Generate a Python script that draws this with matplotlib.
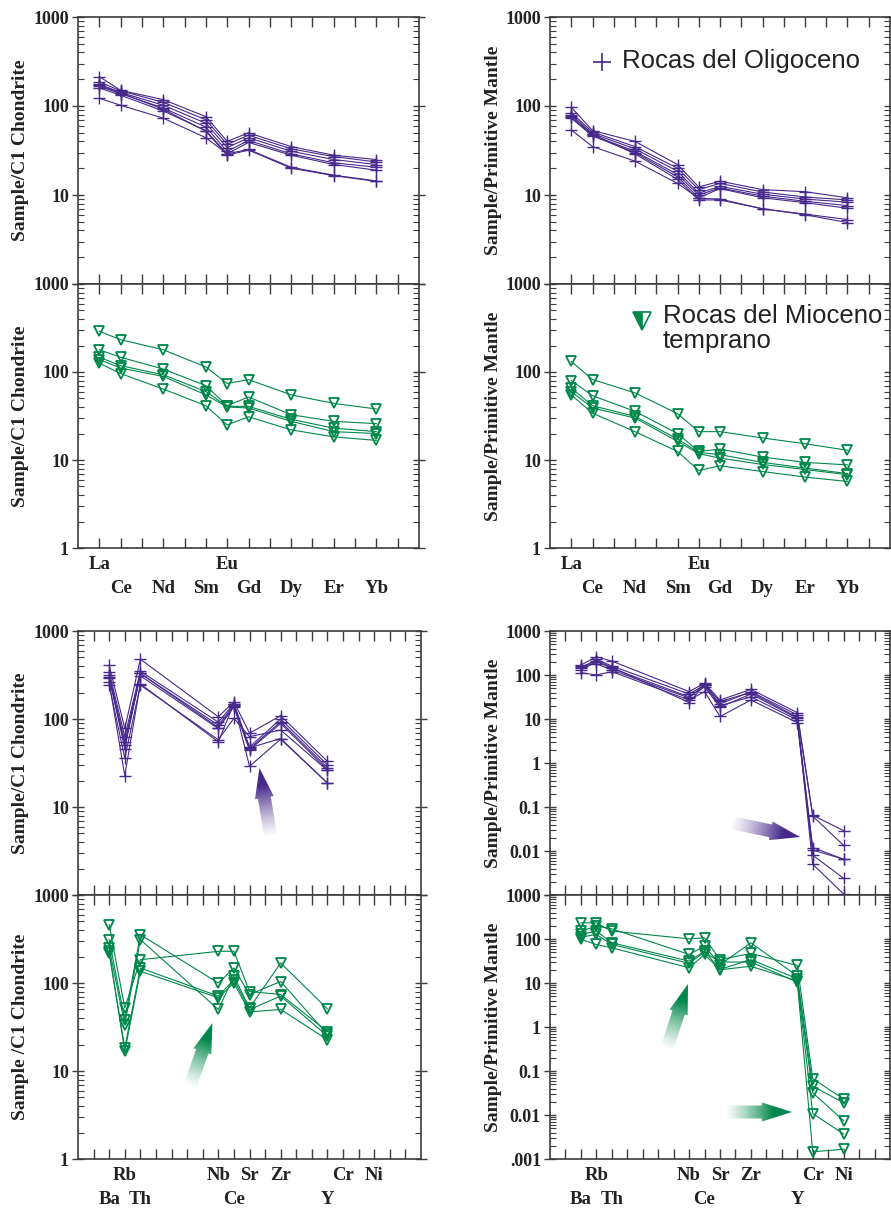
#!/usr/bin/env python3
"""REE and multi-element diagrams, Oligocene vs early Miocene rocks."""

import numpy as np
import matplotlib

matplotlib.use("Agg")
import matplotlib.pyplot as plt
from matplotlib.colors import to_rgb
from matplotlib.patches import Polygon
from matplotlib.ticker import LogLocator, NullFormatter

PURPLE = "#46298a"
GREEN = "#00874a"
INK = "#222222"
SPINE = "#3c3c3c"

# x axes: every tick position, labelled or not
REE_AXIS = ["La", "Ce", "Pr", "Nd", "Pm", "Sm", "Eu", "Gd", "Tb", "Dy", "Ho", "Er", "Tm", "Yb", "Lu"]
REE_ROW1 = ["La", "Eu"]
REE_ROW2 = ["Ce", "Nd", "Sm", "Gd", "Dy", "Er", "Yb"]
SPIDER_AXIS = ["", "Ba", "Rb", "Th", "", "", "", "", "Nb", "Ce", "Sr", "", "Zr", "", "", "Y", "Cr", "", "Ni", "", ""]
SPIDER_ROW1 = ["Rb", "Nb", "Sr", "Zr", "Cr", "Ni"]
SPIDER_ROW2 = ["Ba", "Th", "Ce", "Y"]

REE = ["La", "Ce", "Nd", "Sm", "Eu", "Gd", "Dy", "Er", "Yb"]
SPIDER_CHON = ["Ba", "Rb", "Th", "Nb", "Ce", "Sr", "Zr", "Y"]
SPIDER_PM = ["Ba", "Rb", "Th", "Nb", "Ce", "Sr", "Zr", "Y", "Cr", "Ni"]

# Oligocene rocks
OLIG_CHON_REE = [
    [214, 150, 118, 76, 40, 50, 35, 28, 25],
    [187, 148, 110, 70, 37, 47, 33, 27, 23.5],
    [176, 142, 102, 64, 34, 44, 31, 25, 22],
    [166, 138, 95, 58, 31, 41, 29, 23, 20.5],
    [160, 132, 88, 53, 29, 39, 28, 22, 19],
    [122, 102, 73, 44, 29, 32.5, 20.5, 16.7, 14.4],
    [170, 140, 92, 52, 28, 32, 20, 16.5, 14.2],
]
OLIG_PM_REE = [
    [97, 53, 40, 22, 12.3, 14.3, 11.5, 10.9, 9.3],
    [84, 51, 35, 20, 11.5, 13.5, 10.8, 9.5, 8.8],
    [78, 49, 33, 18.5, 10.5, 12.5, 10.2, 9.0, 8.3],
    [75, 47, 31, 17, 10, 12, 9.7, 8.5, 7.6],
    [73, 46, 30, 16, 9.3, 11.8, 9.3, 8.2, 7.1],
    [54, 35, 24, 13.5, 9.2, 9.0, 7.0, 6.1, 5.3],
    [80, 48, 29, 15, 8.8, 8.8, 7.0, 6.0, 4.9],
]
OLIG_CHON_SPIDER = [
    [408, 78, 478, 106, 157, 69, 109, 33],
    [343, 63, 349, 92, 150, 48, 100, 30],
    [315, 55, 329, 85, 145, 46, 93, 28],
    [289, 51, 309, 78, 138, 44.6, 89, 26.5],
    [243, 36, 243, 58, 102, 63, 75, 26],
    [260, 22.8, 250, 55, 150, 29, 59, 18.7],
    [300, 46, 330, 80, 140, 47, 60, 18.7],
]
OLIG_PM_SPIDER = [
    [168, 260, 207, 42, 65, 27, 47, 14, 0.065, 0.029],
    [141, 226, 160, 37, 59, 22, 42, 12.4, 0.062, 0.0134],
    [130, 200, 142, 32, 54, 18.5, 37, 10.4, 0.012, 0.0065],
    [113, 100, 119, 27, 42, 11.4, 27, 8.3, 0.0105, 0.0065],
    [150, 210, 150, 23.6, 60, 20, 32, 9.5, 0.008, 0.0024],
    [160, 180, 130, 30, 62, 25, 40, 11, 0.005, 0.00105],
]

# Early Miocene rocks
MIO_CHON_REE = [
    [290, 233, 179, 114, 74, 82, 55, 44, 38],
    [179, 147, 108, 70, 41.4, 52, 32.7, 27.5, 25.9],
    [147, 118, 93, 60, 40.7, 40.7, 29, 23, 21],
    [138, 111, 89, 55, 40, 39, 27.5, 21, 20],
    [126, 96, 64, 41.4, 25, 31, 22, 18.3, 16.7],
]
MIO_PM_REE = [
    [132, 82, 58, 33.6, 21, 21, 17.8, 15.3, 12.9],
    [80, 53.8, 35.7, 20, 12.5, 13.3, 10.8, 9.4, 8.8],
    [65.8, 41.4, 31.3, 17.3, 12.2, 11.5, 9.4, 8.1, 7.0],
    [60, 39, 30, 16.3, 11.8, 10.5, 8.9, 7.8, 6.8],
    [55, 34, 21, 12.5, 7.6, 8.6, 7.4, 6.4, 5.7],
]
MIO_CHON_SPIDER = [
    [460, 52, 184, 229, 229, 80, 74, 28],
    [311, 38, 354, 100, 148, 74, 104, 26],
    [250, 33.6, 311, 50, 119, 52, 169, 50.7],
    [219, 18.3, 148, 71, 109, 50, 71, 25],
    [230, 16.7, 136, 68, 100, 47, 50, 22.7],
]
MIO_PM_SPIDER = [
    [233, 233, 151, 101, 106, 34, 47, 25, 0.067, 0.023],
    [151, 196, 170, 44.6, 69, 26, 82, 14.4, 0.045, 0.019],
    [127, 151, 82, 31.5, 53, 20.4, 34, 12.5, 0.032, 0.0074],
    [98, 75, 63, 22.2, 44.6, 20, 24, 11.1, 0.0108, 0.0037],
    [110, 127, 75, 28, 50, 30, 30, 10.5, 0.00146, 0.00167],
]

YTICK_TEXT = {-3: ".001", -2: "0.01", -1: "0.1", 0: "1", 1: "10", 2: "100", 3: "1000"}

plt.rcParams.update({
    "font.family": ["Liberation Serif", "DejaVu Serif"],
    "font.weight": "bold",
    "text.color": INK,
    "axes.edgecolor": SPINE,
    "axes.linewidth": 1.2,
    "xtick.color": SPINE,
    "ytick.color": SPINE,
    "ytick.labelcolor": INK,
})

W, H = 891, 1209
fig = plt.figure(figsize=(W / 100, H / 100), dpi=100)


def add_panel(x0, x1, ytop, ybot):
    return fig.add_axes([x0 / W, 1 - ybot / H, (x1 - x0) / W, (ybot - ytop) / H])


def style_panel(ax, axis_elems, low_exp, lower, ylabel):
    ax.set_yscale("log")
    ax.set_ylim(10.0 ** low_exp, 1000)
    ax.set_xlim(0, len(axis_elems) + 1)
    ax.set_xticks(np.arange(1, len(axis_elems) + 1))
    ax.tick_params(axis="x", which="major", direction="in", top=True, bottom=True,
                   length=7, width=1.0, labelbottom=False)
    exps = list(range(low_exp, 4))
    labels = [YTICK_TEXT[e] for e in exps]
    if not lower:
        labels[0] = ""
    ax.set_yticks([10.0 ** e for e in exps], labels)
    ax.yaxis.set_minor_locator(LogLocator(base=10, subs=np.arange(2, 10), numticks=100))
    ax.yaxis.set_minor_formatter(NullFormatter())
    ax.tick_params(axis="y", which="major", direction="inout", left=True, right=True,
                   length=9, width=1.0, pad=2, labelsize=13)
    ax.tick_params(axis="y", which="minor", direction="in", left=True, right=True,
                   length=4, width=0.8)
    width_px = ax.get_position().width * W
    ax.text(-57 / width_px, 0.5, ylabel, transform=ax.transAxes, rotation=90,
            ha="center", va="center", fontsize=14, fontweight="bold")


def category_labels(ax, axis_elems, row1, row2):
    trans = ax.get_xaxis_transform()
    for names, yy in ((row1, -0.064), (row2, -0.152)):
        for name in names:
            ax.text(axis_elems.index(name) + 1, yy, name, transform=trans, ha="center",
                    va="center", fontsize=13.5, fontweight="bold")


def draw_series(ax, axis_elems, elems, rows, color, marker):
    x = [axis_elems.index(e) + 1 for e in elems]
    for vals in rows:
        if marker == "+":
            ax.plot(x, vals, color=color, lw=0.8, marker="+", ms=8, mew=1.0, clip_on=False, zorder=3)
        else:
            ax.plot(x, vals, color=color, lw=0.8, marker="v", ms=7.5, mfc="none", mec=color,
                    mew=1.3, clip_on=False, zorder=3)


# panel frames in pixel coordinates of the 891 x 1209 canvas
ax_a = add_panel(78, 419, 17, 284)
ax_c = add_panel(78, 419, 284, 548)
ax_b = add_panel(550, 890, 17, 284)
ax_d = add_panel(550, 890, 284, 548)
ax_e = add_panel(78, 421, 631, 895)
ax_g = add_panel(78, 421, 895, 1159)
ax_f = add_panel(550, 890, 631, 895)
ax_h = add_panel(550, 890, 895, 1159)

CHON = "Sample/C1 Chondrite"
PM = "Sample/Primitive Mantle"
style_panel(ax_a, REE_AXIS, 0, False, CHON)
style_panel(ax_c, REE_AXIS, 0, True, CHON)
style_panel(ax_b, REE_AXIS, 0, False, PM)
style_panel(ax_d, REE_AXIS, 0, True, PM)
style_panel(ax_e, SPIDER_AXIS, 0, False, CHON)
style_panel(ax_g, SPIDER_AXIS, 0, True, "Sample /C1 Chondrite")
style_panel(ax_f, SPIDER_AXIS, -3, False, PM)
style_panel(ax_h, SPIDER_AXIS, -3, True, PM)

for ax in (ax_c, ax_d):
    category_labels(ax, REE_AXIS, REE_ROW1, REE_ROW2)
for ax in (ax_g, ax_h):
    category_labels(ax, SPIDER_AXIS, SPIDER_ROW1, SPIDER_ROW2)

draw_series(ax_a, REE_AXIS, REE, OLIG_CHON_REE, PURPLE, "+")
draw_series(ax_b, REE_AXIS, REE, OLIG_PM_REE, PURPLE, "+")
draw_series(ax_c, REE_AXIS, REE, MIO_CHON_REE, GREEN, "v")
draw_series(ax_d, REE_AXIS, REE, MIO_PM_REE, GREEN, "v")
draw_series(ax_e, SPIDER_AXIS, SPIDER_CHON, OLIG_CHON_SPIDER, PURPLE, "+")
draw_series(ax_f, SPIDER_AXIS, SPIDER_PM, OLIG_PM_SPIDER, PURPLE, "+")
draw_series(ax_g, SPIDER_AXIS, SPIDER_CHON, MIO_CHON_SPIDER, GREEN, "v")
draw_series(ax_h, SPIDER_AXIS, SPIDER_PM, MIO_PM_SPIDER, GREEN, "v")

# legends
ax_b.plot([0.153], [0.831], transform=ax_b.transAxes, marker="+", ms=13, mew=1.2,
          color=PURPLE, clip_on=False)
ax_b.text(0.212, 0.809, "Rocas del Oligoceno", transform=ax_b.transAxes, fontsize=18.5,
          family="Liberation Sans", fontweight="normal", va="baseline", ha="left")
ax_d.plot([0.271], [0.858], transform=ax_d.transAxes, marker="v", ms=13, mew=1.2,
          fillstyle="left", color=GREEN, mfc=GREEN, mfcalt="white", mec=GREEN, clip_on=False)
ax_d.text(0.332, 0.852, "Rocas del Mioceno", transform=ax_d.transAxes, fontsize=18.5,
          family="Liberation Sans", fontweight="normal", va="baseline", ha="left", clip_on=False)
ax_d.text(0.332, 0.758, "temprano", transform=ax_d.transAxes, fontsize=18.5,
          family="Liberation Sans", fontweight="normal", va="baseline", ha="left")

# fading arrows drawn on a full-figure overlay in display pixels
overlay = fig.add_axes([0, 0, 1, 1], zorder=10)
overlay.set_axis_off()


def gradient_arrow(ax, tail, tip, color, shaft=6.5, head=9.5, head_len=30.0):
    p0 = ax.transData.transform(tail)
    p1 = ax.transData.transform(tip)
    d = p1 - p0
    length = np.hypot(*d)
    u = d / length
    n = np.array([-u[1], u[0]])
    neck = p1 - u * head_len
    pts = np.array([p0 + n * shaft, neck + n * shaft, neck + n * head, p1,
                    neck - n * head, neck - n * shaft, p0 - n * shaft])
    poly = Polygon(pts, closed=True, facecolor="none", edgecolor="none",
                   transform=overlay.transData)
    overlay.add_patch(poly)
    xmin, ymin = pts.min(axis=0) - 2
    xmax, ymax = pts.max(axis=0) + 2
    gx, gy = np.meshgrid(np.linspace(xmin, xmax, 200), np.linspace(ymin, ymax, 200))
    t = ((gx - p0[0]) * u[0] + (gy - p0[1]) * u[1]) / (length - head_len * 0.6)
    t = np.clip(t, 0, 1)
    rgba = np.zeros(gx.shape + (4,))
    rgba[..., :3] = to_rgb(color)
    rgba[..., 3] = 0.03 + 0.97 * t ** 1.2
    im = overlay.imshow(rgba, extent=(xmin, xmax, ymin, ymax), origin="lower",
                        interpolation="bilinear", aspect="auto")
    im.set_clip_path(poly)


gradient_arrow(ax_e, (12.35, 4.8), (11.64, 27.7), PURPLE)
gradient_arrow(ax_f, (11.84, 0.0433), (16.18, 0.0208), PURPLE)
gradient_arrow(ax_g, (7.2, 6.9), (8.62, 35), GREEN)
gradient_arrow(ax_h, (7.57, 0.333), (8.93, 9.5), GREEN)
gradient_arrow(ax_h, (11.46, 0.0117), (15.66, 0.0117), GREEN)
overlay.set_xlim(0, W)
overlay.set_ylim(0, H)

fig.savefig("out.png", dpi=100)
